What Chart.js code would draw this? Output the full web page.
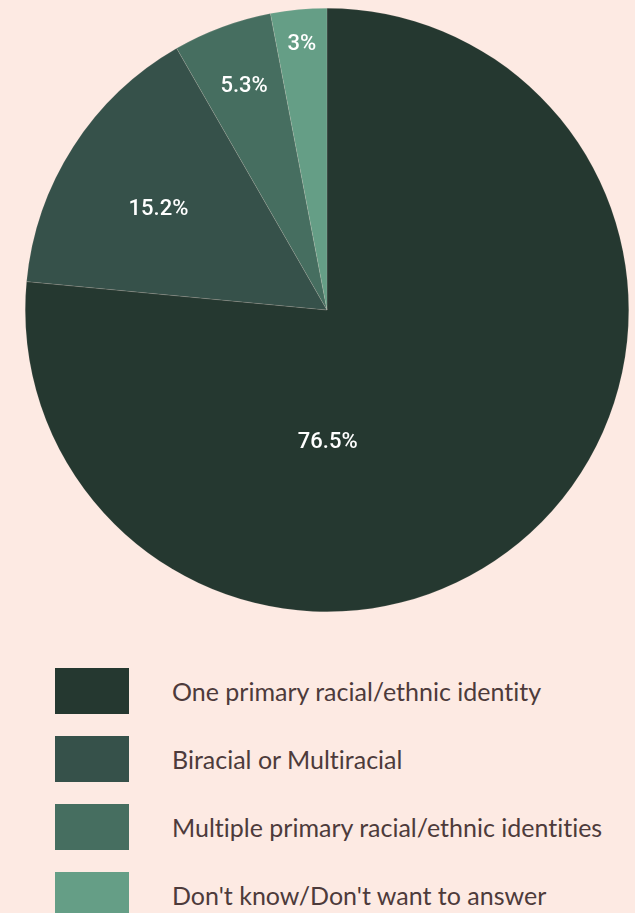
<!DOCTYPE html>
<html>
<head>
<meta charset="utf-8">
<script src="https://cdn.jsdelivr.net/npm/chart.js@4"></script>
<style>
  html, body { margin: 0; padding: 0; background: #fdeae3; }
  #wrap { position: relative; width: 635px; height: 620px; }
  #legend { list-style: none; margin: 0; padding: 0; position: absolute; left: 55px; top: 668px; }
  #legend li { display: flex; align-items: center; height: 46px; margin-bottom: 22px;
    font-family: "Lato", sans-serif; font-size: 25px; color: #4d3b3b;
    font-variant-ligatures: none; white-space: nowrap; }
  #legend .box { width: 74px; height: 46px; margin-right: 43px; flex: none; }
</style>
</head>
<body>
<div id="wrap"><canvas id="pie"></canvas></div>
<ul id="legend"></ul>
<script>
const categories = [
  "One primary racial/ethnic identity",
  "Biracial or Multiracial",
  "Multiple primary racial/ethnic identities",
  "Don't know/Don't want to answer"
];
const shares = [76.5, 15.2, 5.3, 3];
const colors = ["#253830", "#36514a", "#466e60", "#659e86"];

// label placement: fraction of radius and angle shift (deg) from slice middle
const labelRadius = [0.44, 0.65, 0.79, 0.885];
const labelShift = [42, -2, 0, 0];

const pieLabels = {
  id: "pieLabels",
  afterDatasetsDraw(chart) {
    const ctx = chart.ctx;
    const meta = chart.getDatasetMeta(0);
    ctx.save();
    ctx.fillStyle = "#ffffff";
    ctx.font = '500 22px "Roboto", sans-serif';
    ctx.textAlign = "center";
    ctx.textBaseline = "middle";
    meta.data.forEach((arc, i) => {
      const p = arc.getProps(["x", "y", "startAngle", "endAngle", "outerRadius"], true);
      const a = (p.startAngle + p.endAngle) / 2 + labelShift[i] * Math.PI / 180;
      const r = p.outerRadius * labelRadius[i];
      ctx.fillText(shares[i] + "%", p.x + Math.cos(a) * r, p.y + Math.sin(a) * r);
    });
    ctx.restore();
  }
};

const chart = new Chart(document.getElementById("pie"), {
  type: "pie",
  data: {
    labels: categories,
    datasets: [{
      data: shares,
      backgroundColor: colors,
      borderColor: "rgba(253,234,227,0.25)",
      borderWidth: 0.5
    }]
  },
  options: {
    responsive: true,
    maintainAspectRatio: false,
    animation: false,
    layout: { padding: { left: 19, right: 0, top: 8, bottom: 8 } },
    plugins: {
      legend: { display: false },
      tooltip: { enabled: false }
    }
  },
  plugins: [pieLabels]
});

// HTML legend built from the chart's own legend items
const legend = document.getElementById("legend");
chart.options.plugins.legend.labels.generateLabels(chart).forEach((item) => {
  const li = document.createElement("li");
  li.innerHTML = `<span class="box" style="background:${item.fillStyle}"></span><span>${item.text}</span>`;
  legend.appendChild(li);
});
</script>
</body>
</html>
